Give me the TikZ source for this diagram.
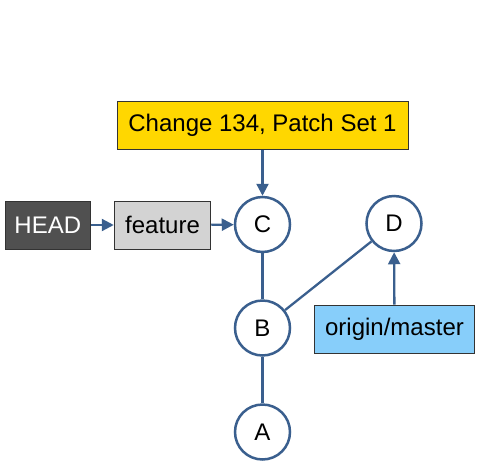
\documentclass[tikz,border=0pt]{standalone}
\usepackage{fontspec}
\setmainfont{Liberation Sans}
\usetikzlibrary{arrows.meta}
\definecolor{edgeblue}{HTML}{3A5F8E}
\definecolor{boxline}{HTML}{333333}
\definecolor{headfill}{HTML}{505050}
\definecolor{featfill}{HTML}{D3D3D3}
\definecolor{changefill}{HTML}{FFD700}
\definecolor{originfill}{HTML}{87CEFA}
\begin{document}
\begin{tikzpicture}[x=1pt,y=-1pt,
  every node/.style={font=\fontsize{24}{28}\selectfont},
  refbox/.style={draw=boxline,line width=1pt,rectangle,inner sep=0pt,minimum height=48pt},
  commit/.style={draw=edgeblue,line width=2.5pt,circle,fill=white,inner sep=0pt,minimum size=55pt},
  link/.style={draw=edgeblue,line width=2.3pt},
  ptr/.style={link,-{Triangle[length=12pt,width=12pt]}}]
\useasboundingbox (0,0) rectangle (480,467);
\node[refbox,fill=changefill,minimum width=291pt] (change) at (262.5,125) {Change 134, Patch Set 1};
\node[refbox,fill=headfill,text=white,minimum width=85.5pt] (head) at (47.8,225) {HEAD};
\node[refbox,fill=featfill,minimum width=96.5pt] (feature) at (162.5,225) {feature};
\node[commit] (C) at (262.5,224.5) {C};
\node[commit] (D) at (394,223.5) {D};
\node[commit] (B) at (262.5,328) {B};
\node[commit] (A) at (262.5,432) {A};
\node[refbox,fill=originfill,minimum width=160pt] (origin) at (394.5,329) {origin/master};
\draw[link] (C) -- (B);
\draw[link] (B) -- (D);
\draw[link] (B) -- (A);
\draw[ptr] (head) -- (feature);
\draw[ptr] (feature) -- (C);
\draw[ptr] (change) -- (C);
\draw[ptr] (origin) -- (D);
\end{tikzpicture}
\end{document}
